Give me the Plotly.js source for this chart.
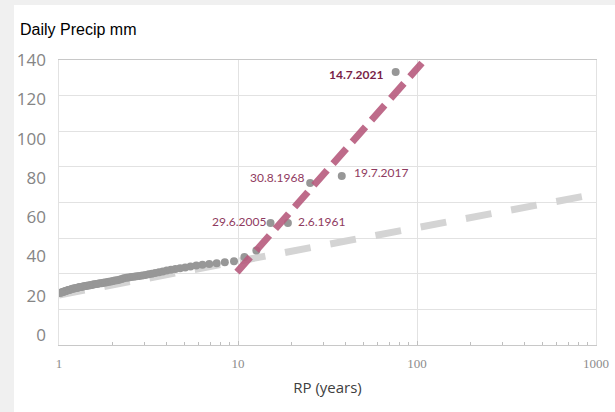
<!DOCTYPE html>
<html>
<head>
<meta charset="utf-8">
<script src="https://cdn.plot.ly/plotly-3.0.1.min.js"></script>
<style>
  html, body { margin: 0; padding: 0; background: #f0f0f0; width: 615px; height: 412px; overflow: hidden; }
  #chart { position: absolute; left: 14px; top: 5px; width: 601px; height: 407px; background: #ffffff; }
</style>
</head>
<body>
<div id="chart"></div>
<script>
// Return period (years) of each annual maximum, largest first
const rp = [76, 38, 25.3, 19, 15.2, 12.67, 10.86, 9.5, 8.44, 7.6,
  6.91, 6.33, 5.85, 5.43, 5.07, 4.75, 4.47, 4.22, 4.0, 3.8,
  3.62, 3.45, 3.3, 3.17, 3.04, 2.92, 2.81, 2.71, 2.62, 2.53,
  2.45, 2.38, 2.3, 2.24, 2.17, 2.11, 2.05, 2.0, 1.95, 1.9,
  1.85, 1.81, 1.77, 1.73, 1.69, 1.65, 1.62, 1.58, 1.55, 1.52,
  1.49, 1.46, 1.43, 1.41, 1.38, 1.36, 1.33, 1.31, 1.29, 1.27,
  1.25, 1.23, 1.21, 1.19, 1.17, 1.15, 1.13, 1.12, 1.1, 1.09,
  1.07, 1.06, 1.04, 1.03, 1.01];
// Daily precipitation (mm)
const precip = [134, 81, 77.4, 57, 57, 43, 39.7, 37.5, 37, 36.6,
  36.2, 35.8, 35.4, 34.9, 34.4, 34, 33.6, 33.2, 32.8, 32.4,
  32, 31.6, 31.2, 30.9, 30.6, 30.3, 30.1, 29.9, 29.7, 29.5,
  29.3, 29.1, 28.9, 28.5, 28.2, 27.9, 27.7, 27.5, 27.3, 27.1,
  26.9, 26.7, 26.6, 26.4, 26.3, 26.1, 26, 25.8, 25.7, 25.5,
  25.4, 25.2, 25.1, 25, 24.8, 24.7, 24.5, 24.4, 24.3, 24.1,
  24, 23.8, 23.7, 23.5, 23.3, 23.1, 22.9, 22.8, 22.6, 22.4,
  22.2, 22, 21.8, 21.6, 21.4];

// Fitted lines
const rpFitAll = [1, 1000];
const precipFitAll = [20.4, 71.8];
const rpFitTop = [9.87, 106.6];
const precipFitTop = [32, 138.5];

// Labelled events (index into rp/precip)
const eventNames = ['14.7.2021', '19.7.2017', '30.8.1968', '2.6.1961', '29.6.2005'];
const eventIdx = [0, 1, 2, 3, 4];

// Axis ticks
const yTicks = [0, 20, 40, 60, 80, 100, 120, 140];
const xTicks = [1, 10, 100, 1000];
const xTickText = ['1', '10', '100', '1000'];

const labelStyle = [
  {xanchor: 'right', xshift: -11, yshift: -3, bold: true},
  {xanchor: 'left', xshift: 10, yshift: 3},
  {xanchor: 'right', xshift: -4, yshift: 6},
  {xanchor: 'left', xshift: 8, yshift: 2},
  {xanchor: 'right', xshift: -3, yshift: 2}
];

const traces = [
  { x: [], y: [], xaxis: 'x', yaxis: 'y2', type: 'scatter', mode: 'markers', showlegend: false, hoverinfo: 'skip' },
  { x: rpFitAll, y: precipFitAll, type: 'scatter', mode: 'lines', showlegend: false,
    line: {color: '#d4d4d4', width: 7, dash: '26px,20px'} },
  { x: rp, y: precip, type: 'scatter', mode: 'markers', showlegend: false,
    marker: {color: '#979797', size: 8} },
  { x: rpFitTop, y: precipFitTop, type: 'scatter', mode: 'lines', showlegend: false, opacity: 0.9,
    line: {color: '#b75b7d', width: 7, dash: '20px,9px'} }
];

const annotations = eventIdx.map((k, i) => ({
  x: Math.log10(rp[k]), y: precip[k], xref: 'x', yref: 'y',
  text: labelStyle[i].bold ? '<b>' + eventNames[i] + '</b>' : eventNames[i],
  showarrow: false, xanchor: labelStyle[i].xanchor, yanchor: 'middle',
  xshift: labelStyle[i].xshift, yshift: labelStyle[i].yshift,
  font: {family: 'Lato, sans-serif', size: 12, color: labelStyle[i].bold ? '#7a1f47' : '#8f3a60'}
}));

const layout = {
  width: 601, height: 407,
  paper_bgcolor: '#ffffff', plot_bgcolor: '#ffffff',
  margin: {l: 45, r: 19, t: 55, b: 67},
  title: {text: 'Daily Precip mm', xref: 'container', yref: 'container', x: 0.01, xanchor: 'left',
    y: 0.941, yanchor: 'middle', font: {family: 'Liberation Sans, Arial, sans-serif', size: 16, color: '#000000'}},
  xaxis: {
    type: 'log', range: [0, 3], tickmode: 'array', tickvals: xTicks, ticktext: xTickText,
    ticks: 'inside', ticklen: 4, tickcolor: '#bfbfbf',
    showline: true, linecolor: '#c8c8c8', mirror: true,
    showgrid: true, gridcolor: '#e2e2e2', zeroline: false,
    minor: {dtick: 'D1', ticks: 'inside', ticklen: 3, tickcolor: '#bfbfbf', showgrid: false},
    tickfont: {family: 'Liberation Serif, serif', size: 13, color: '#8c8c8c'},
    ticklabelstandoff: 6,
    title: {text: 'RP (years)', font: {family: 'Open Sans, sans-serif', size: 15, color: '#404040'}, standoff: 12}
  },
  yaxis: {
    range: [-5.09, 140.05], tickmode: 'array', tickvals: yTicks,
    showgrid: false, zeroline: false, showline: false, ticks: '',
    tickfont: {family: 'Open Sans, sans-serif', size: 17, color: '#858585'},
    ticklabelstandoff: 12
  },
  yaxis2: {
    overlaying: 'y', side: 'left', range: [0, 8], tickmode: 'linear', tick0: 0, dtick: 1,
    showgrid: true, gridcolor: '#e2e2e2', showticklabels: false, zeroline: false,
    showline: true, mirror: true, linecolor: '#e2e2e2', ticks: ''
  },
  annotations: annotations,
  showlegend: false
};

Plotly.newPlot('chart', traces, layout, {displayModeBar: false, staticPlot: true});
</script>
</body>
</html>
